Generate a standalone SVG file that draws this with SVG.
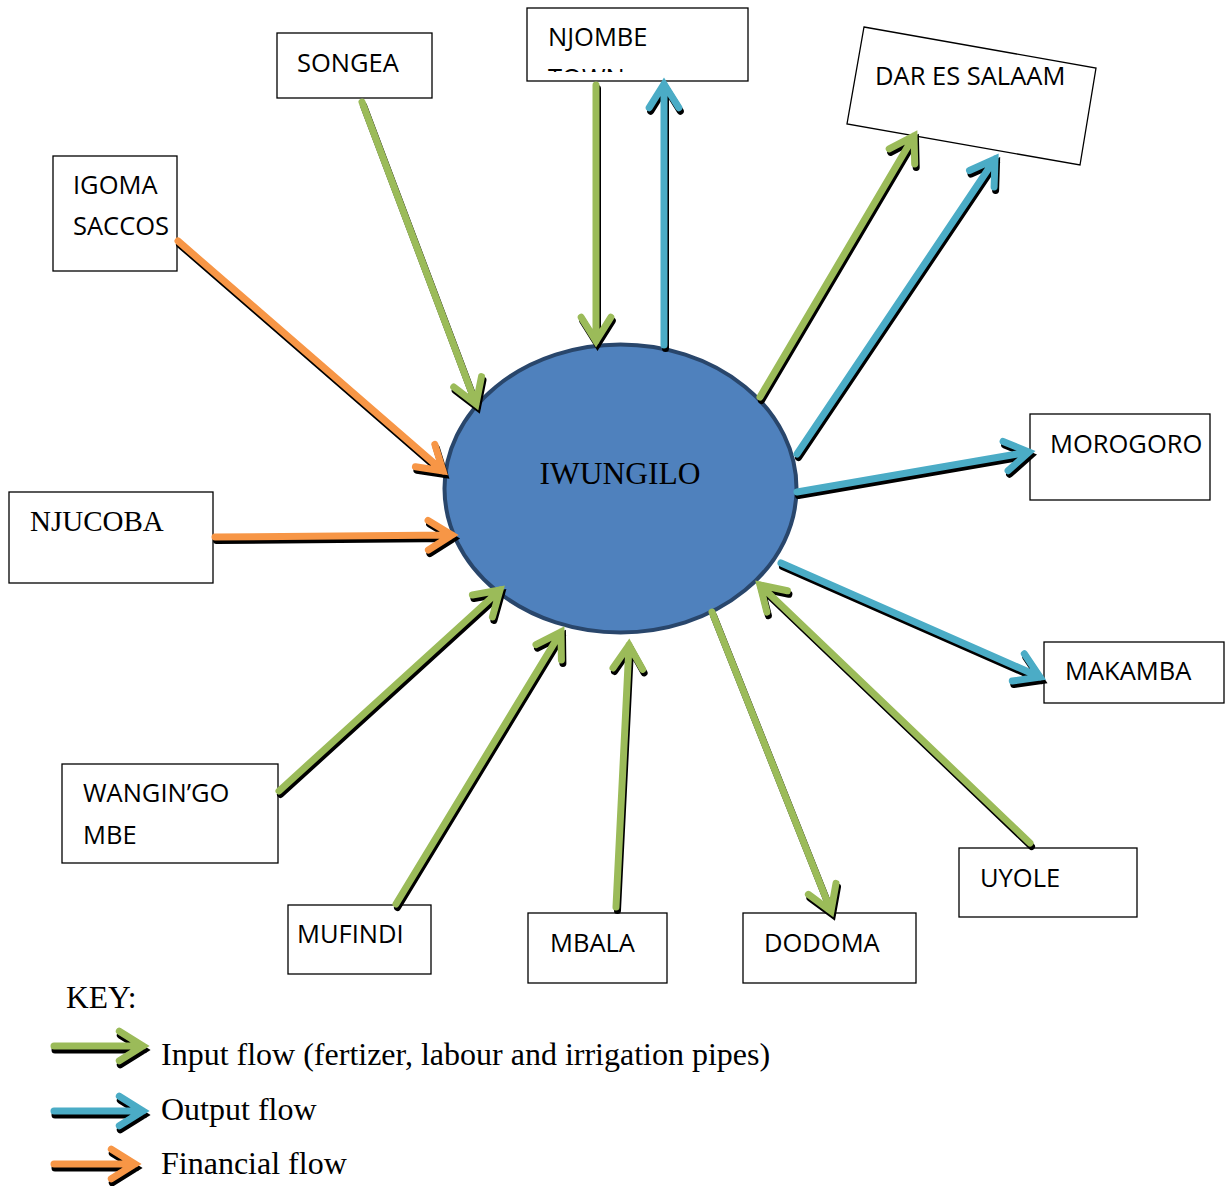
<svg xmlns="http://www.w3.org/2000/svg" xmlns:xlink="http://www.w3.org/1999/xlink" width="1226" height="1186" viewBox="0 0 1226 1186">
<style>
.box{fill:#fff;stroke:#000;stroke-width:1.3}
.lbl{font-family:"Open Sans","Liberation Sans",sans-serif;font-size:25.5px;fill:#000}
.ser{font-family:"Liberation Serif","Times New Roman",serif;fill:#000}
.arw{fill:none;stroke-width:7;stroke-linecap:round;stroke-linejoin:miter;stroke-miterlimit:10}
.sh{stroke:#000}
.g{stroke:#9BBB59}
.b{stroke:#4BACC6}
.o{stroke:#F79646}
</style>
<defs>
<clipPath id="clipNj"><rect x="527" y="8" width="221" height="64"/></clipPath>
<path id="a1" d="M362,102 L476,404 M481.5,376.6 L476,404 L453.7,387"/>
<path id="a2" d="M596,85 L596,341 M610.8,317.3 L596,341 L581.2,317.3"/>
<path id="a3" d="M664,345 L664,84 M649.2,107.7 L664,84 L678.8,107.7"/>
<path id="a4" d="M760,397 L914,136 M889.2,148.9 L914,136 L914.7,164"/>
<path id="a5" d="M797,454 L995,159 M969.5,170.5 L995,159 L994.1,187"/>
<path id="a6" d="M797,492 L1029,452 M1003.1,441.4 L1029,452 L1008.1,470.7"/>
<path id="a7" d="M781,563 L1040,677 M1024.3,653.8 L1040,677 L1012.3,681"/>
<path id="a8" d="M1030,843 L760,585 M766.9,612.1 L760,585 L787.4,590.7"/>
<path id="a9" d="M712,612 L831,911 M836,883.4 L831,911 L808.4,894.4"/>
<path id="a10" d="M616,907 L629,645 M613,668 L629,645 L642.6,669.4"/>
<path id="a11" d="M396,904 L561,632 M536,644.6 L561,632 L561.4,660"/>
<path id="a12" d="M279,791 L500,590 M472.4,595 L500,590 L492.4,617"/>
<path id="a13" d="M215,537 L452,535 M428.1,520.4 L452,535 L428.4,550"/>
<path id="a14" d="M178,241 L443,471 M434.8,444.3 L443,471 L415.4,466.7"/>
<path id="k1" d="M54,1046 L143,1046 M119.3,1031.2 L143,1046 L119.3,1060.8"/>
<path id="k2" d="M54,1111 L143,1111 M119.3,1096.2 L143,1111 L119.3,1125.8"/>
<path id="k3" d="M54,1164 L135,1164 M111.3,1149.2 L135,1164 L111.3,1178.8"/>
</defs>

<g id="iwungilo">
<ellipse cx="620.5" cy="488.5" rx="176" ry="144" fill="#4F81BD" stroke="#29466B" stroke-width="4"/>
<text class="ser" x="620" y="484" font-size="31.5" text-anchor="middle">IWUNGILO</text>
</g>
<g id="songea"><rect class="box" x="277" y="33" width="155" height="65"/><text class="lbl" x="297" y="72">SONGEA</text></g>
<g id="njombe"><rect class="box" x="527" y="8" width="221" height="73"/>
<g clip-path="url(#clipNj)"><text class="lbl" x="548" y="46">NJOMBE</text><text class="lbl" x="548" y="87">TOWN</text></g></g>
<g id="dar"><polygon class="box" points="864,27 1096,68 1080,165 847,124"/><text class="lbl" x="875" y="85">DAR ES SALAAM</text></g>
<g id="igoma"><rect class="box" x="53" y="156" width="124" height="115"/><text class="lbl" x="73" y="194">IGOMA</text><text class="lbl" x="73" y="235">SACCOS</text></g>
<g id="njucoba"><rect class="box" x="9" y="492" width="204" height="91"/><text class="ser" x="30" y="531" font-size="29">NJUCOBA</text></g>
<g id="morogoro"><rect class="box" x="1030" y="414" width="180" height="86"/><text class="lbl" x="1050" y="453">MOROGORO</text></g>
<g id="makamba"><rect class="box" x="1044" y="642" width="180" height="61"/><text class="lbl" x="1065" y="680">MAKAMBA</text></g>
<g id="wangingombe"><rect class="box" x="62" y="764" width="216" height="99"/><text class="lbl" x="83" y="802">WANGIN’GO</text><text class="lbl" x="83" y="844">MBE</text></g>
<g id="mufindi"><rect class="box" x="288" y="905" width="143" height="69"/><text class="lbl" x="297" y="943">MUFINDI</text></g>
<g id="mbala"><rect class="box" x="528" y="913" width="139" height="70"/><text class="lbl" x="550" y="952">MBALA</text></g>
<g id="dodoma"><rect class="box" x="743" y="913" width="173" height="70"/><text class="lbl" x="764" y="952">DODOMA</text></g>
<g id="uyole"><rect class="box" x="959" y="848" width="178" height="69"/><text class="lbl" x="980" y="887">UYOLE</text></g>

<g id="connectors" class="arw">
<g transform="translate(1.5,3.5)" class="sh">
<use xlink:href="#a1"/><use xlink:href="#a2"/><use xlink:href="#a3"/><use xlink:href="#a4"/><use xlink:href="#a5"/><use xlink:href="#a6"/><use xlink:href="#a7"/><use xlink:href="#a8"/><use xlink:href="#a9"/><use xlink:href="#a10"/><use xlink:href="#a11"/><use xlink:href="#a12"/><use xlink:href="#a13"/><use xlink:href="#a14"/>
</g>
<g class="g"><use xlink:href="#a1"/><use xlink:href="#a2"/><use xlink:href="#a4"/><use xlink:href="#a8"/><use xlink:href="#a9"/><use xlink:href="#a10"/><use xlink:href="#a11"/><use xlink:href="#a12"/></g>
<g class="b"><use xlink:href="#a3"/><use xlink:href="#a5"/><use xlink:href="#a6"/><use xlink:href="#a7"/></g>
<g class="o"><use xlink:href="#a13"/><use xlink:href="#a14"/></g>
</g>

<g id="key">
<text class="ser" x="66" y="1008" font-size="31.5">KEY:</text>
<g class="arw">
<g transform="translate(1,4)" class="sh"><use xlink:href="#k1"/><use xlink:href="#k2"/><use xlink:href="#k3"/></g>
<use xlink:href="#k1" class="g"/><use xlink:href="#k2" class="b"/><use xlink:href="#k3" class="o"/>
</g>
<text class="ser" x="161" y="1065" font-size="32">Input flow (fertizer, labour and irrigation pipes)</text>
<text class="ser" x="161" y="1120" font-size="32">Output flow</text>
<text class="ser" x="161" y="1174" font-size="32">Financial flow</text>
</g>
</svg>
